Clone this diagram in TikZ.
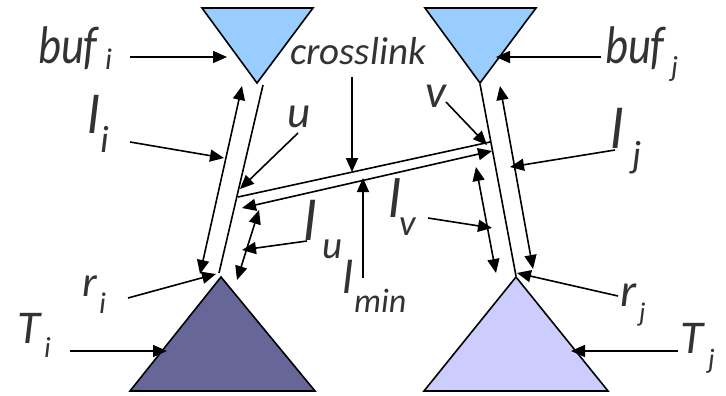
\documentclass[tikz,border=0pt]{standalone}
\usepackage{fontspec}
\setmainfont{Carlito}
\usetikzlibrary{arrows.meta}
\definecolor{bufblue}{HTML}{99CCFF}
\definecolor{tidark}{HTML}{666699}
\definecolor{tjlight}{HTML}{CCCCFF}
\definecolor{txtgray}{HTML}{333333}
\begin{document}
\begin{tikzpicture}[x=1pt,y=-1pt,
  lw/.style={line width=1.6pt},
  ar/.style={lw,-{Triangle[length=14pt,width=12pt]}},
  dar/.style={lw,{Triangle[length=14pt,width=12pt]}-{Triangle[length=14pt,width=12pt]}},
  lb/.style={inner sep=0pt, anchor=base west, text=txtgray, font=\fontsize{#1}{#1}\selectfont\itshape},
  tri/.style={line width=1.6pt, draw=black, line join=miter}]
\useasboundingbox (0,0) rectangle (726,396);

% triangles
\filldraw[tri, fill=bufblue] (202,8) -- (313,8) -- (257,83) -- cycle;
\filldraw[tri, fill=bufblue] (425,8) -- (536,8) -- (480,83) -- cycle;
\filldraw[tri, fill=tidark] (221,277) -- (315,391) -- (130,391) -- cycle;
\filldraw[tri, fill=tjlight] (516,277) -- (608,391) -- (424,391) -- cycle;

% link points
\coordinate (liTop) at (263,85);
\coordinate (liBot) at (219,273);
\coordinate (ljTop) at (480,84);
\coordinate (ljBot) at (516,276);
\coordinate (u) at (238,197);
\coordinate (v) at (490,142);

% links and crosslink
\draw[lw] (liTop) -- (liBot);
\draw[lw] (ljTop) -- (ljBot);
\draw[lw] (u) -- (v);

% length arrows
\coordinate (liA) at (242,86);   \coordinate (liB) at (200,274);
\coordinate (ljA) at (500,86);   \coordinate (ljB) at (533,269);
\coordinate (luA) at (259,210);  \coordinate (luB) at (237,280);
\coordinate (lvA) at (476,167);  \coordinate (lvB) at (496,273);
\coordinate (lmA) at (242,208);  \coordinate (lmB) at (492,151);
\draw[dar] (liA) -- (liB);
\draw[dar] (ljA) -- (ljB);
\draw[dar] (luA) -- (luB);
\draw[dar] (lvA) -- (lvB);
\draw[dar] (lmA) -- (lmB);

% labels
\node[lb=53] (bufi) at (38,64) {\scalebox{0.84}[1]{buf}};
\node[lb=30] (bufis) at (105,70) {i};
\node[lb=53] (bufj) at (605,64) {\scalebox{0.84}[1]{buf}};
\node[lb=29] (bufjs) at (671,77) {j};
\node[lb=39] (cross) at (290,65) {crosslink};
\node[lb=55] (li) at (87,133) {l};
\node[lb=38] (lis) at (100,152) {i};
\node[lb=58] (lj) at (610,148) {l};
\node[lb=38] (ljs) at (632,167) {j};
\node[lb=45] (ulab) at (287,128) {u};
\node[lb=47] (vlab) at (425,107) {v};
\node[lb=58] (lu) at (303,240) {l};
\node[lb=39] (lus) at (322,258) {u};
\node[lb=56] (lv) at (388,217) {l};
\node[lb=37] (lvs) at (399,235) {v};
\node[lb=48] (lmin) at (342,293) {l};
\node[lb=34] (lmins) at (354,312) {min};
\node[lb=43] (ri) at (82,296) {r};
\node[lb=30] (ris) at (99,313) {i};
\node[lb=47] (rj) at (620,306) {r};
\node[lb=27] (rjs) at (639,321) {j};
\node[lb=47] (ti) at (17,343) {T};
\node[lb=29] (tis) at (44,357) {i};
\node[lb=47] (tj) at (680,353) {T};
\node[lb=28] (tjs) at (708,368) {j};

% pointer arrows
\coordinate (p1a) at (130,57);  \coordinate (p1b) at (227,57);
\coordinate (p2a) at (601,57);  \coordinate (p2b) at (496,57);
\coordinate (p3a) at (352,77);  \coordinate (p3b) at (352,172);
\coordinate (p4a) at (130,142); \coordinate (p4b) at (224,158);
\coordinate (p5a) at (298,133); \coordinate (p5b) at (240,189);
\coordinate (p6a) at (446,102); \coordinate (p6b) at (487,145);
\coordinate (p7a) at (615,150); \coordinate (p7b) at (510,167);
\coordinate (p8a) at (307,241); \coordinate (p8b) at (242,250);
\coordinate (p9a) at (428,218); \coordinate (p9b) at (492,228);
\coordinate (p10a) at (363,278); \coordinate (p10b) at (363,178);
\coordinate (p11a) at (128,298); \coordinate (p11b) at (216,274);
\coordinate (p12a) at (618,296); \coordinate (p12b) at (517,273);
\coordinate (p13a) at (70,351);  \coordinate (p13b) at (167,351);
\coordinate (p14a) at (678,351); \coordinate (p14b) at (571,351);
\foreach \i in {1,...,14} {\draw[ar] (p\i a) -- (p\i b);}
\end{tikzpicture}
\end{document}
